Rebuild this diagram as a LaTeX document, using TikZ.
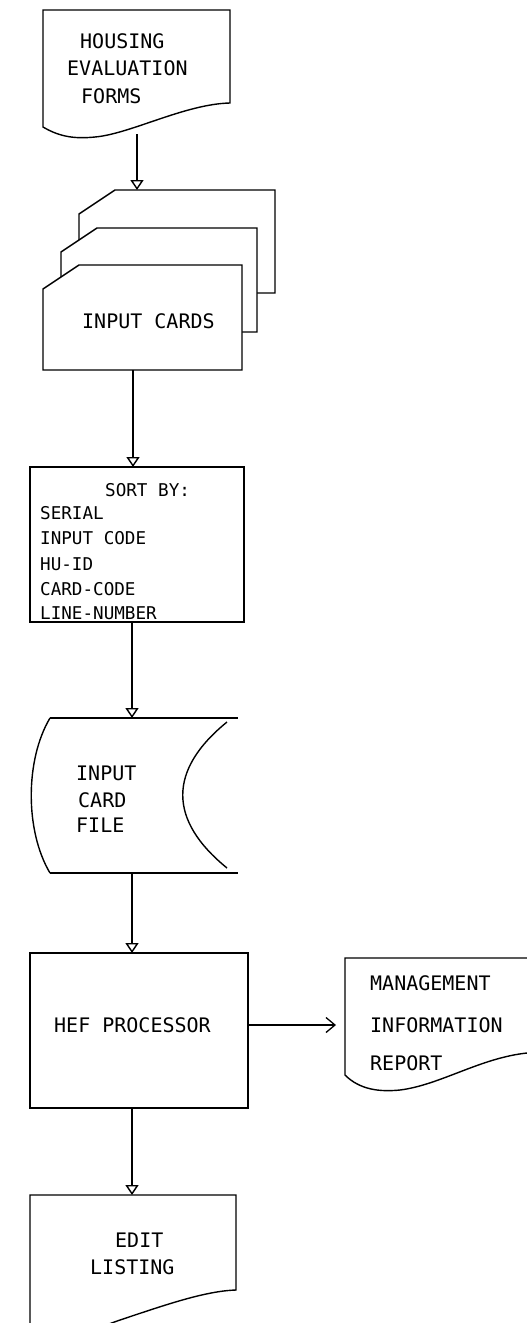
\documentclass[tikz,border=0pt]{standalone}
\usepackage{fontspec}
\newfontfamily\typefont{DejaVu Sans Mono}
\usetikzlibrary{arrows.meta}
\begin{document}
\begin{tikzpicture}[x=1pt,y=-1pt,
  outline/.style={draw=black, line width=1.4pt, fill=white, line join=miter},
  flow/.style={draw=black, line width=1.2pt, -{Triangle[open, width=13pt, length=10pt, line width=1.4pt]}},
  flowbarb/.style={draw=black, line width=1.2pt, -{Straight Barb[length=9pt, width=15pt, line width=1.3pt]}},
  lbl/.style={font=\typefont\fontsize{20}{24}\selectfont, inner sep=0pt, anchor=west},
  lblsm/.style={font=\typefont\fontsize{17.6}{22}\selectfont, inner sep=0pt, anchor=west},
]
\useasboundingbox (0,0) rectangle (527,1323);
\fill[white] (0,0) rectangle (527,1323);
\clip (0,0) rectangle (527,1323);

% --- document: housing evaluation forms
\draw[outline] (43,127) -- (43,10) -- (230,10) -- (230,103)
  .. controls (185,104) and (130,134) .. (95,137)
  .. controls (75,139) and (60,137) .. (43,127) -- cycle;
\node[lbl] (hef1) at (80,41) {HOUSING};
\node[lbl] (hef2) at (67,68) {EVALUATION};
\node[lbl] (hef3) at (81,96) {FORMS};
\coordinate (formsOut) at (137,134);

% --- deck of input cards
\draw[outline] (79,214) -- (115,190) -- (275,190) -- (275,293) -- (79,293) -- cycle;
\draw[outline] (61,252) -- (97,228) -- (257,228) -- (257,332) -- (61,332) -- cycle;
\draw[outline] (43,289) -- (79,265) -- (242,265) -- (242,370) -- (43,370) -- cycle;
\node[lbl] (cards) at (82,321) {INPUT CARDS};
\coordinate (cardsIn) at (137,190);
\coordinate (cardsOut) at (133,370);

% --- sort box
\draw[outline] (30,467) rectangle (244,622);
\node[lblsm] (s0) at (105,490) {SORT BY:};
\node[lblsm] (s1) at (40,513) {SERIAL};
\node[lblsm] (s2) at (40,538) {INPUT CODE};
\node[lblsm] (s3) at (40,564) {HU-ID};
\node[lblsm] (s4) at (40,589) {CARD-CODE};
\node[lblsm] (s5) at (40,613) {LINE-NUMBER};
\coordinate (sortIn) at (133,467);
\coordinate (sortOut) at (132,622);

% --- stored data: input card file
\draw[outline] (50,718) -- (238,718);
\draw[outline] (50,873) -- (238,873);
\draw[outline, fill=none] (50,718) .. controls (25,760) and (25,831) .. (50,873);
\draw[outline, fill=none] (227,722) .. controls (168,770) and (168,820) .. (227,868);
\node[lbl] (f1) at (76,773) {INPUT};
\node[lbl] (f2) at (78,800) {CARD};
\node[lbl] (f3) at (76,825) {FILE};
\coordinate (fileIn) at (132,718);
\coordinate (fileOut) at (132,873);

% --- process: HEF processor
\draw[outline] (30,953) rectangle (248,1108);
\node[lbl] (proc) at (54,1025) {HEF PROCESSOR};
\coordinate (procIn) at (132,953);
\coordinate (procRight) at (248,1025);
\coordinate (procOut) at (132,1108);

% --- document: management information report
\draw[outline] (345,1075) -- (345,958) -- (545,958) -- (545,1052) -- (527,1053)
  .. controls (480,1058) and (440,1085) .. (400,1090)
  .. controls (380,1092) and (360,1090) .. (345,1075) -- cycle;
\node[lbl] (m1) at (370,983) {MANAGEMENT};
\node[lbl] (m2) at (370,1025) {INFORMATION};
\node[lbl] (m3) at (370,1063) {REPORT};
\coordinate (mirIn) at (336,1025);

% --- document: edit listing
\draw[outline] (30,1340) -- (30,1195) -- (236,1195) -- (236,1290)
  .. controls (205,1291) and (165,1305) .. (120,1320)
  .. controls (100,1327) and (70,1340) .. (30,1340) -- cycle;
\node[lbl] (e1) at (115,1240) {EDIT};
\node[lbl] (e2) at (90,1267) {LISTING};
\coordinate (editIn) at (132,1195);

% --- connectors
\draw[flow] (formsOut) -- (cardsIn);
\draw[flow] (cardsOut) -- (sortIn);
\draw[flow] (sortOut) -- (fileIn);
\draw[flow] (fileOut) -- (procIn);
\draw[flowbarb] (procRight) -- (mirIn);
\draw[flow] (procOut) -- (editIn);
\end{tikzpicture}
\end{document}
